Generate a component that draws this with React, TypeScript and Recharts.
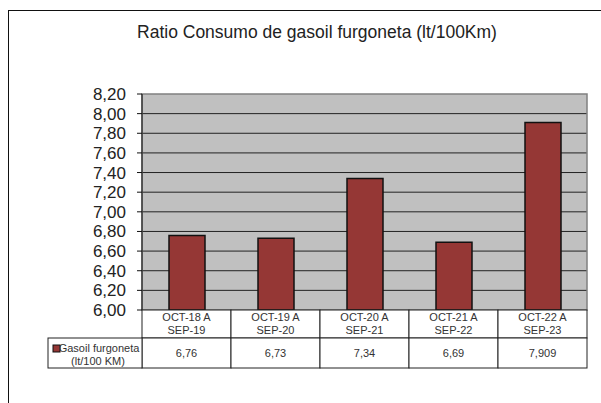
import { BarChart, Bar, XAxis, YAxis, CartesianGrid, ReferenceArea } from "recharts";

const categories = [
  ["OCT-18 A", "SEP-19"],
  ["OCT-19 A", "SEP-20"],
  ["OCT-20 A", "SEP-21"],
  ["OCT-21 A", "SEP-22"],
  ["OCT-22 A", "SEP-23"],
];
const gasoilValues = [6.76, 6.73, 7.34, 6.69, 7.909];
const yTicks = [6, 6.2, 6.4, 6.6, 6.8, 7, 7.2, 7.4, 7.6, 7.8, 8, 8.2];

const seriesName = ["Gasoil furgoneta", "(lt/100 KM)"];
const title = "Ratio Consumo de gasoil furgoneta (lt/100Km)";

const data = categories.map((c, i) => ({
  label: c.join("\n"),
  gasoil: gasoilValues[i],
}));

const FONT = "'Liberation Sans', Arial, sans-serif";
const BAR_COLOR = "#953735";
const LINE = "#222";

// draws one column of the data table under the plot
function TableTick(props: any) {
  const { x, y, payload, index } = props;
  const half = payload.offset || 44.5;
  const left = x - half;
  const w = half * 2;
  const cat = categories[index] || [];
  const val = gasoilValues[index];
  return (
    <g fontFamily={FONT} fontSize={11} fill="#333">
      <rect x={left} y={y} width={w} height={28} fill="#fff" stroke={LINE} />
      <rect x={left} y={y + 28} width={w} height={30} fill="#fff" stroke={LINE} />
      <text x={x} y={y + 11} textAnchor="middle">
        {cat[0]}
      </text>
      <text x={x} y={y + 24} textAnchor="middle">
        {cat[1]}
      </text>
      <text x={x} y={y + 47} textAnchor="middle">
        {String(val).replace(".", ",")}
      </text>
      {index === 0 && (
        <g>
          <rect x={left - 94} y={y + 28} width={94} height={30} fill="#fff" stroke={LINE} />
          <rect x={left - 89} y={y + 35} width={7} height={7} fill={BAR_COLOR} stroke="#111" strokeWidth={1} />
          <text x={left - 43} y={y + 42} textAnchor="middle">
            {seriesName[0]}
          </text>
          <text x={left - 44} y={y + 55} textAnchor="middle">
            {seriesName[1]}
          </text>
        </g>
      )}
    </g>
  );
}

export default function App() {
  return (
    <div
      style={{
        position: "absolute",
        left: 0,
        top: 0,
        width: 601,
        height: 403,
        overflow: "hidden",
        background: "#fff",
      }}
    >
      <div
        style={{
          position: "absolute",
          left: 8,
          top: 10,
          width: 700,
          height: 500,
          border: "1px solid #111",
        }}
      />
      <div
        style={{
          position: "absolute",
          left: 117,
          top: 22,
          width: 400,
          textAlign: "center",
          fontFamily: FONT,
          fontSize: 17.5,
          color: "#222",
        }}
      >
        {title}
      </div>
      <div style={{ position: "absolute", left: 0, top: 0 }}>
        <BarChart
          width={601}
          height={403}
          data={data}
          margin={{ top: 94, right: 14, left: 82, bottom: 0 }}
        >
          <CartesianGrid
            vertical={false}
            fill="#C0C0C0"
            stroke="#222"
            horizontalValues={yTicks.slice(1, -1)}
          />
          <ReferenceArea y1={6} y2={8.2} fill="none" stroke="#808080" strokeWidth={1.5} />
          <XAxis
            dataKey="label"
            height={93}
            axisLine={false}
            tickLine={false}
            tickSize={0}
            tickMargin={0}
            interval={0}
            tick={<TableTick />}
          />
          <YAxis
            width={60}
            domain={[6, 8.2]}
            ticks={yTicks}
            interval={0}
            tickSize={5}
            tickMargin={11}
            axisLine={{ stroke: "#111" }}
            tickLine={{ stroke: "#111" }}
            tick={{ fill: "#222", fontSize: 17, fontFamily: FONT }}
            tickFormatter={(v: number) => v.toFixed(2).replace(".", ",")}
          />
          <Bar
            dataKey="gasoil"
            fill={BAR_COLOR}
            stroke="#111"
            strokeWidth={1.5}
            barSize={36}
            isAnimationActive={false}
          />
        </BarChart>
      </div>
    </div>
  );
}
